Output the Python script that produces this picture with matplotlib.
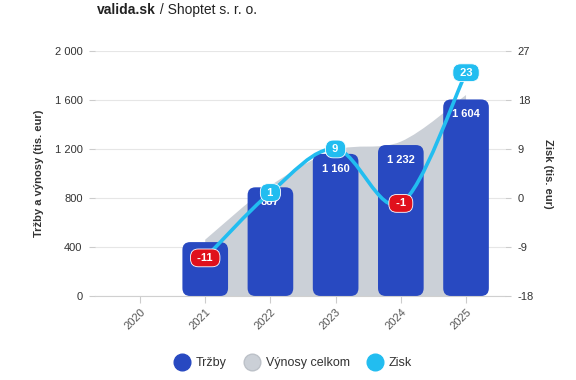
import numpy as np
import matplotlib.pyplot as plt
from matplotlib.path import Path
from matplotlib.patches import PathPatch, FancyBboxPatch
from matplotlib.lines import Line2D

plt.rcParams['font.family'] = ['Liberation Sans', 'DejaVu Sans']
plt.rcParams['axes.unicode_minus'] = False

# data (tis. eur)
years = ['2020', '2021', '2022', '2023', '2024', '2025']
trzby = [None, 440, 887, 1160, 1232, 1604]
vynosy = [None, 460, 900, 1190, 1260, 1640]
zisk = [None, -11, 1, 9, -1, 23]

bar_color = '#2849c1'
area_color = '#cbd0d7'
line_color = '#22bdf0'
red = '#e0101c'


def smooth_path(xs, ys, close_to=None):
    # cubic bezier through the points (catmull-rom style handles)
    pts = list(zip(xs, ys))
    verts = [pts[0]]
    codes = [Path.MOVETO]
    n = len(pts)
    for i in range(n - 1):
        p0 = pts[i - 1] if i > 0 else pts[i]
        p1 = pts[i]
        p2 = pts[i + 1]
        p3 = pts[i + 2] if i + 2 < n else pts[i + 1]
        c1 = (p1[0] + (p2[0] - p0[0]) / 6, p1[1] + (p2[1] - p0[1]) / 6)
        c2 = (p2[0] - (p3[0] - p1[0]) / 6, p2[1] - (p3[1] - p1[1]) / 6)
        verts += [c1, c2, p2]
        codes += [Path.CURVE4] * 3
    if close_to is not None:
        verts += [(xs[-1], close_to), (xs[0], close_to), (xs[0], close_to)]
        codes += [Path.LINETO, Path.LINETO, Path.CLOSEPOLY]
    return Path(verts, codes)


fig = plt.figure(figsize=(5.76, 3.8), dpi=100)
ax = fig.add_axes([0.165, 0.221, 0.712, 0.645])
ax2 = ax.twinx()

x = np.arange(len(years))
idx = [i for i in x if trzby[i] is not None]

# výnosy celkom - grey area
ax.add_patch(PathPatch(smooth_path([x[i] for i in idx], [vynosy[i] for i in idx], close_to=0),
                       facecolor=area_color, edgecolor='none', zorder=1))

# tržby - rounded bars
w = 0.7
for i in idx:
    ax.add_patch(FancyBboxPatch((x[i] - w / 2, 0), w, trzby[i],
                                boxstyle='round,pad=0,rounding_size=0.12',
                                mutation_aspect=530,
                                facecolor=bar_color, edgecolor='none', zorder=2))
    if i > 1:  # 2021 label is hidden under the profit label in the original
        ax.text(x[i], trzby[i] - 120, f'{trzby[i]:,}'.replace(',', ' '), ha='center', va='center',
                color='white', fontsize=8, fontweight='bold', zorder=3)

ax.set_xlim(-0.69, 5.6)
ax.set_ylim(0, 2000)
ax.set_yticks(range(0, 2001, 400))
ax.set_yticklabels([f'{v:,}'.replace(',', ' ') for v in range(0, 2001, 400)])
ax.set_xticks(x)
ax.set_xticklabels(years, rotation=45, ha='right', rotation_mode='anchor')
ax.grid(axis='y', color='#e6e6e6', lw=0.8)
ax.set_axisbelow(True)
for s in ['top', 'right', 'left']:
    ax.spines[s].set_visible(False)
ax.spines['bottom'].set_color('#d0d0d0')
ax.tick_params(axis='y', length=4, color='#cccccc', labelsize=8, labelcolor='#333333', pad=5)
ax.tick_params(axis='x', length=5, color='#cccccc', labelsize=8, labelcolor='#555555', pad=3)
ax.set_ylabel('Tržby a výnosy (tis. eur)', fontsize=8, fontweight='bold', color='#333333', labelpad=8)

# zisk - smooth line with labels
ax2.set_ylim(-18, 27)
ax2.set_yticks(range(-18, 28, 9))
for s in ['top', 'right', 'left', 'bottom']:
    ax2.spines[s].set_visible(False)
ax2.tick_params(axis='y', length=4, color='#cccccc', labelsize=8, labelcolor='#333333', pad=5)
ax2.set_ylabel('Zisk (tis. eur)', fontsize=8, fontweight='bold', color='#333333',
               rotation=270, labelpad=14)
ax2.add_patch(PathPatch(smooth_path([x[i] for i in idx], [zisk[i] for i in idx]),
                        facecolor='none', edgecolor=line_color, lw=2.6, zorder=4,
                        capstyle='round', joinstyle='round'))
for i in idx:
    c = red if zisk[i] < 0 else line_color
    ax2.text(x[i], zisk[i], f' {zisk[i]} ', ha='center', va='center', color='white',
             fontsize=8, fontweight='bold', zorder=6,
             bbox=dict(boxstyle='round,pad=0.35,rounding_size=0.7', fc=c, ec='white', lw=0.6))
ax.set_zorder(0)
ax2.set_zorder(1)

# title
t1 = fig.text(0.168, 0.962, 'valida.sk', fontsize=10, fontweight='bold', color='#222222')
fig.text(0, 0, ' / Shoptet s. r. o.', fontsize=10, color='#222222')
fig.canvas.draw()
bb = t1.get_window_extent().transformed(fig.transFigure.inverted())
fig.texts[-1].set_position((bb.x1, 0.962))

# legend
handles = [Line2D([], [], marker='o', ls='none', ms=12, mfc=bar_color, mec=bar_color),
           Line2D([], [], marker='o', ls='none', ms=12, mfc=area_color, mec='#bcc1c8'),
           Line2D([], [], marker='o', ls='none', ms=12, mfc=line_color, mec=line_color)]
fig.legend(handles, ['Tržby', 'Výnosy celkom', 'Zisk'], loc='center', bbox_to_anchor=(0.505, 0.045),
           ncol=3, frameon=False, fontsize=9, handletextpad=0.1, columnspacing=1.0,
           labelcolor='#333333')

fig.savefig('out.png', dpi=100)
